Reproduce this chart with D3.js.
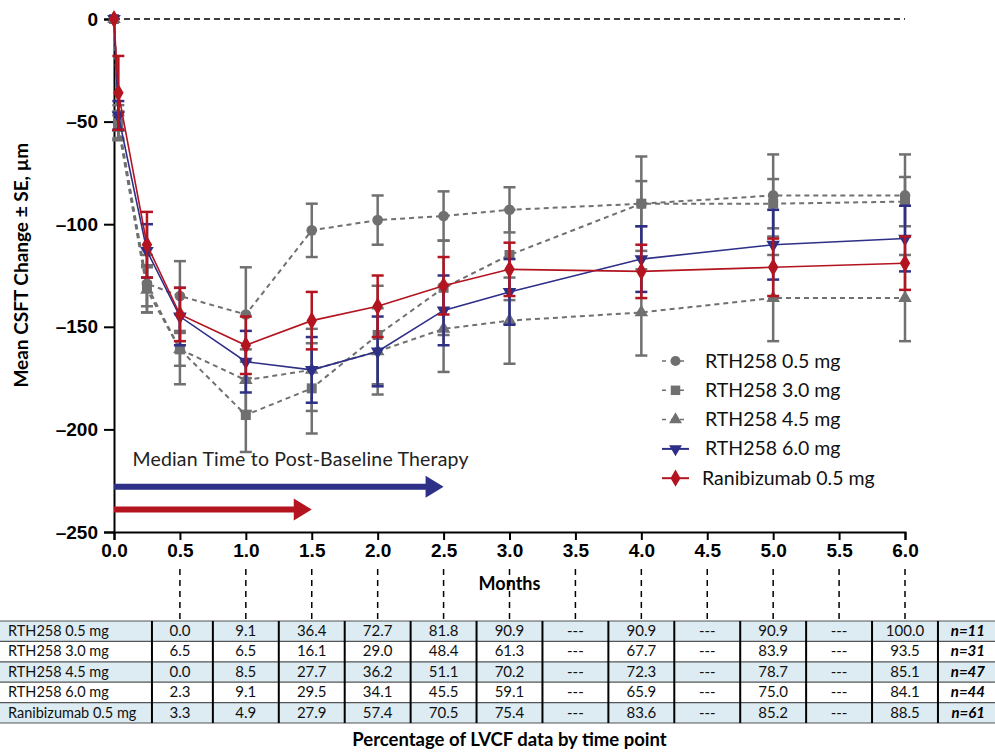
<!DOCTYPE html>
<html>
<head>
<meta charset="utf-8">
<script src="https://cdn.jsdelivr.net/npm/d3@7"></script>
<style>
  body { margin: 0; background: #fff; }
  svg { font-family: Lato, "Open Sans", sans-serif; }
</style>
</head>
<body>
<div id="chart"></div>
<script>
// Zeitpunkte (Monate)
const months = [0, 0.033, 0.25, 0.5, 1, 1.5, 2, 2.5, 3, 4, 5, 6];

// Mittelwerte und SE je Gruppe
const rth05Mean = [0, -50, -129, -135, -144, -103, -98, -96, -93, -90, -86, -86];
const rth05SE   = [0, 8, 14, 17, 23, 13, 12, 12, 11, 23, 20, 20];
const rth30Mean = [0, -52, -130, -161, -193, -180, -154, -131, -115, -90, -90, -89];
const rth30SE   = [0, 7, 10, 8, 18, 22, 24, 23, 22, 11, 12, 12];
const rth45Mean = [0, -53, -132, -161, -176, -171, -162, -151, -147, -143, -136, -136];
const rth45SE   = [0, 6, 11, 17, 15, 20, 21, 21, 21, 21, 21, 21];
const rth60Mean = [0, -47, -113, -145, -167, -171, -162, -142, -133, -117, -110, -107];
const rth60SE   = [0, 7, 13, 14, 15, 16, 17, 17, 16, 16, 17, 16];
const raniMean  = [0, -36, -110, -144, -159, -147, -140, -130, -122, -123, -121, -119];
const raniSE    = [0, 18, 16, 13, 14, 14, 15, 14, 13, 13, 14, 13];

const seriesNames = ["RTH258 0.5 mg", "RTH258 3.0 mg", "RTH258 4.5 mg", "RTH258 6.0 mg", "Ranibizumab 0.5 mg"];

// Median Time to Post-Baseline Therapy (Monate)
const medianTimeRth60 = 2.5;
const medianTimeRani = 1.5;

// Tabelle: Anteil LVCF-Daten je Zeitpunkt
const tableMonths = [0.5, 1, 1.5, 2, 2.5, 3, 3.5, 4, 4.5, 5, 5.5, 6];
const lvcfRth05 = ["0.0", "9.1", "36.4", "72.7", "81.8", "90.9", "---", "90.9", "---", "90.9", "---", "100.0"];
const lvcfRth30 = ["6.5", "6.5", "16.1", "29.0", "48.4", "61.3", "---", "67.7", "---", "83.9", "---", "93.5"];
const lvcfRth45 = ["0.0", "8.5", "27.7", "36.2", "51.1", "70.2", "---", "72.3", "---", "78.7", "---", "85.1"];
const lvcfRth60 = ["2.3", "9.1", "29.5", "34.1", "45.5", "59.1", "---", "65.9", "---", "75.0", "---", "84.1"];
const lvcfRani  = ["3.3", "4.9", "27.9", "57.4", "70.5", "75.4", "---", "83.6", "---", "85.2", "---", "88.5"];
const nLabels = ["n=11", "n=31", "n=47", "n=44", "n=61"];

const xTicks = [0, 0.5, 1, 1.5, 2, 2.5, 3, 3.5, 4, 4.5, 5, 5.5, 6];
const yTicks = [0, -50, -100, -150, -200, -250];

const width = 995, height = 752;
const gray = "#707070", blue = "#2e2f87", red = "#b3141f";

const svg = d3.select("#chart").append("svg")
  .attr("width", width)
  .attr("height", height);

const x = d3.scaleLinear().domain([0, 6]).range([114, 905]);
const y = d3.scaleLinear().domain([-250, 0]).range([532, 19]);

// Nulllinie
svg.append("line")
  .attr("x1", x(0)).attr("x2", x(6))
  .attr("y1", y(0)).attr("y2", y(0))
  .attr("stroke", "#000").attr("stroke-width", 1.5)
  .attr("stroke-dasharray", "6,4");

// Achsen
const yAxis = svg.append("g")
  .attr("transform", `translate(${x(0)},0)`)
  .call(d3.axisLeft(y).tickValues(yTicks).tickSize(10).tickPadding(6)
    .tickFormat(d => d === 0 ? "0" : "\u2013" + Math.abs(d)));
const xAxis = svg.append("g")
  .attr("transform", `translate(0,${y(-250)})`)
  .call(d3.axisBottom(x).tickValues(xTicks).tickSize(8).tickPadding(4)
    .tickFormat(d3.format(".1f")));

[yAxis, xAxis].forEach(a => {
  a.select(".domain").attr("stroke", "#000").attr("stroke-width", 2);
  a.selectAll(".tick line").attr("stroke", "#000").attr("stroke-width", 2);
  a.selectAll(".tick text").attr("fill", "#000")
    .style("font-size", "19px").style("font-weight", "bold");
});

svg.append("text")
  .attr("transform", `translate(28,${y(-120)}) rotate(-90)`)
  .attr("text-anchor", "middle")
  .style("font-size", "19px").style("font-weight", "bold")
  .text("Mean CSFT Change \u00b1 SE, \u00b5m");

svg.append("text")
  .attr("x", x(3)).attr("y", 590)
  .attr("text-anchor", "middle")
  .style("font-size", "18px").style("font-weight", "bold")
  .text("Months");

// Gestrichelte Hilfslinien zur Tabelle
svg.selectAll(".guide")
  .data(tableMonths)
  .enter().append("line")
  .attr("class", "guide")
  .attr("x1", d => x(d)).attr("x2", d => x(d))
  .attr("y1", 569).attr("y2", 620)
  .attr("stroke", "#000").attr("stroke-width", 1.5)
  .attr("stroke-dasharray", "6,5");

// Median-Pfeile
svg.append("text")
  .attr("x", x(0.14)).attr("y", y(-218))
  .style("font-size", "19.5px").attr("fill", "#222")
  .attr("textLength", 336)
  .text("Median Time to Post-Baseline Therapy");

function arrow(tip, val, color) {
  const yy = y(val);
  svg.append("path")
    .attr("d", `M${x(0)},${yy - 3}L${x(tip) - 18},${yy - 3}L${x(tip) - 18},${yy - 11}L${x(tip)},${yy}L${x(tip) - 18},${yy + 11}L${x(tip) - 18},${yy + 3}L${x(0)},${yy + 3}Z`)
    .attr("fill", color);
}
arrow(medianTimeRth60, -228, blue);
arrow(medianTimeRani, -239, red);

// Serien
const series = [
  {name: seriesNames[0], mean: rth05Mean, se: rth05SE, color: gray, dash: "5,4", sym: d3.symbolCircle, size: 90, rot: 0},
  {name: seriesNames[1], mean: rth30Mean, se: rth30SE, color: gray, dash: "5,4", sym: d3.symbolSquare, size: 100, rot: 0},
  {name: seriesNames[2], mean: rth45Mean, se: rth45SE, color: gray, dash: "5,4", sym: d3.symbolTriangle, size: 80, rot: 0},
  {name: seriesNames[3], mean: rth60Mean, se: rth60SE, color: blue, dash: null, sym: d3.symbolTriangle, size: 80, rot: 180},
  {name: seriesNames[4], mean: raniMean, se: raniSE, color: red, dash: null, sym: d3.symbolDiamond, size: 95, rot: 0}
];

const line = d3.line()
  .x((d, i) => x(months[i]))
  .y(d => y(d));

series.forEach(s => {
  const g = svg.append("g");
  const pts = s.mean.map((m, i) => ({t: months[i], m: m, se: s.se[i]}));

  g.append("path")
    .datum(s.mean)
    .attr("d", line)
    .attr("fill", "none")
    .attr("stroke", s.color)
    .attr("stroke-width", s.dash ? 2 : 1.6)
    .attr("stroke-dasharray", s.dash);

  const eb = g.selectAll(".eb").data(pts.filter(p => p.se > 0)).enter().append("g");
  eb.append("line")
    .attr("x1", d => x(d.t)).attr("x2", d => x(d.t))
    .attr("y1", d => y(d.m - d.se)).attr("y2", d => y(d.m + d.se))
    .attr("stroke", s.color).attr("stroke-width", 2.5);
  [1, -1].forEach(sg => {
    eb.append("line")
      .attr("x1", d => x(d.t) - 6).attr("x2", d => x(d.t) + 6)
      .attr("y1", d => y(d.m + sg * d.se)).attr("y2", d => y(d.m + sg * d.se))
      .attr("stroke", s.color).attr("stroke-width", 2.5);
  });

  g.selectAll(".pt").data(pts).enter().append("path")
    .attr("d", d3.symbol().type(s.sym).size(s.size))
    .attr("transform", d => `translate(${x(d.t)},${y(d.m)}) rotate(${s.rot})`)
    .attr("fill", s.color);
});

// Legende
const legend = svg.append("g").attr("transform", "translate(662,361)");
series.forEach((s, i) => {
  const row = legend.append("g").attr("transform", `translate(0,${i * 29.3})`);
  row.append("line")
    .attr("x1", 0).attr("x2", 27).attr("y1", 0).attr("y2", 0)
    .attr("stroke", s.color).attr("stroke-width", s.dash ? 1.5 : 2)
    .attr("stroke-dasharray", s.dash ? "4,5" : null);
  row.append("path")
    .attr("d", d3.symbol().type(s.sym).size(s.size * 0.9))
    .attr("transform", `translate(13.5,0) rotate(${s.rot})`)
    .attr("fill", s.color);
  row.append("text")
    .attr("x", i === 4 ? 40 : 43).attr("y", 6.5)
    .style("font-size", "19.5px").attr("fill", "#111")
    .text(s.name);
});

// Tabelle
const tableRows = [lvcfRth05, lvcfRth30, lvcfRth45, lvcfRth60, lvcfRani];
const rowTop = 621, rowH = 20.4;
const colEdges = [0, x(0.25) + 5].concat(tableMonths.map(m => x(m + 0.25)), [width]);
const table = svg.append("g");

tableRows.forEach((r, i) => {
  const yy = rowTop + i * rowH;
  table.append("rect")
    .attr("x", 0).attr("y", yy).attr("width", width).attr("height", rowH)
    .attr("fill", i % 2 === 0 ? "#ddebf3" : "#fff");
  table.append("text")
    .attr("x", 8).attr("y", yy + 15)
    .style("font-size", "14.5px").attr("fill", "#111")
    .text(seriesNames[i]);
  r.forEach((v, j) => {
    table.append("text")
      .attr("x", x(tableMonths[j])).attr("y", yy + 15)
      .attr("text-anchor", "middle")
      .style("font-size", "15px").attr("fill", "#111")
      .text(v);
  });
  table.append("text")
    .attr("x", 985).attr("y", yy + 15)
    .attr("text-anchor", "end")
    .style("font-size", "15px").style("font-weight", "bold").style("font-style", "italic")
    .text(nLabels[i]);
});

d3.range(tableRows.length + 1).forEach(i => {
  table.append("line")
    .attr("x1", 0).attr("x2", width)
    .attr("y1", rowTop + i * rowH).attr("y2", rowTop + i * rowH)
    .attr("stroke", "#555").attr("stroke-width", 1.2);
});
colEdges.slice(1, -1).forEach(cx => {
  table.append("line")
    .attr("x1", cx).attr("x2", cx)
    .attr("y1", rowTop).attr("y2", rowTop + tableRows.length * rowH)
    .attr("stroke", "#000").attr("stroke-width", 2);
});

svg.append("text")
  .attr("x", x(3)).attr("y", 746)
  .attr("text-anchor", "middle")
  .style("font-size", "18.5px").style("font-weight", "bold")
  .text("Percentage of LVCF data by time point");
</script>
</body>
</html>
